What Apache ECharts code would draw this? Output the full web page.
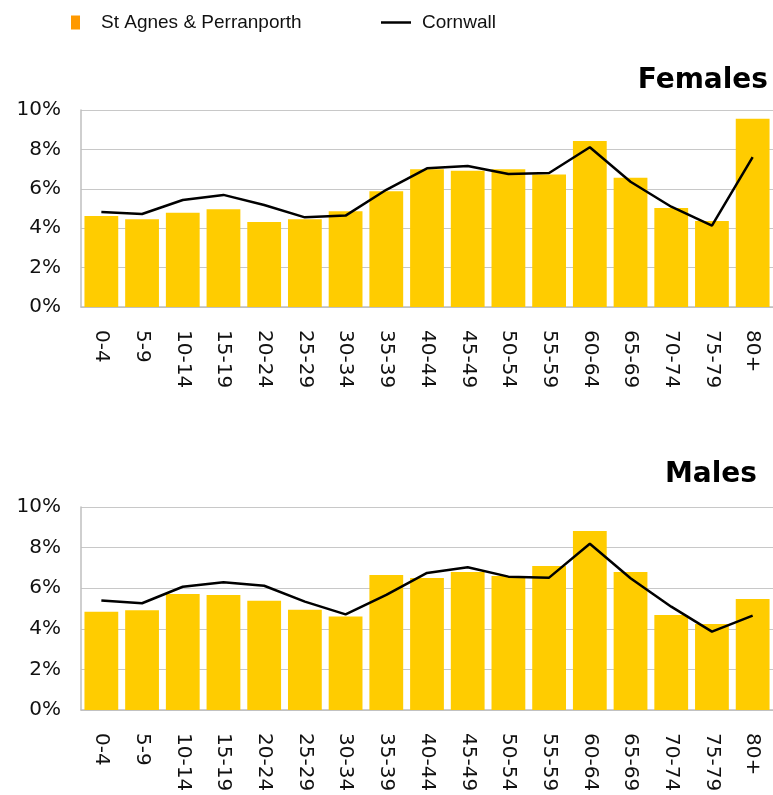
<!DOCTYPE html>
<html>
<head>
<meta charset="utf-8">
<script src="https://cdn.jsdelivr.net/npm/echarts@6/dist/echarts.min.js"></script>
<style>
  html, body { margin: 0; padding: 0; background: #fff; }
  #chart { width: 773px; height: 795px; }
</style>
</head>
<body>
<div id="chart"></div>
<script>
var ageBands = ['0-4', '5-9', '10-14', '15-19', '20-24', '25-29', '30-34', '35-39', '40-44',
  '45-49', '50-54', '55-59', '60-64', '65-69', '70-74', '75-79', '80+'];

// percentages
var femalesLocal = [4.62, 4.45, 4.79, 4.96, 4.31, 4.45, 4.86, 5.87, 6.99, 6.92, 6.99, 6.72, 8.43, 6.56, 5.03, 4.37, 9.56];
var femalesCornwall = [4.82, 4.72, 5.43, 5.69, 5.18, 4.55, 4.64, 5.95, 7.04, 7.16, 6.75, 6.80, 8.11, 6.36, 5.09, 4.13, 7.61];
var malesLocal = [4.84, 4.91, 5.71, 5.67, 5.38, 4.94, 4.61, 6.65, 6.50, 6.80, 6.60, 7.09, 8.82, 6.80, 4.68, 4.24, 5.47];
var malesCornwall = [5.40, 5.26, 6.07, 6.29, 6.12, 5.34, 4.71, 5.67, 6.75, 7.03, 6.57, 6.52, 8.19, 6.49, 5.09, 3.86, 4.65];

var localName = 'St Agnes & Perranporth';
var cornwallName = 'Cornwall';

var chart = echarts.init(document.getElementById('chart'));

function xAxisFor(gridIndex) {
  return {
    type: 'category',
    gridIndex: gridIndex,
    data: ageBands,
    axisTick: { show: false },
    axisLine: { lineStyle: { color: '#bfbfbf', width: 1.5 } },
    axisLabel: {
      rotate: -90,
      interval: 0,
      margin: 23,
      color: '#111',
      fontFamily: 'DejaVu Sans',
      fontSize: 20
    }
  };
}

function yAxisFor(gridIndex) {
  return {
    type: 'value',
    gridIndex: gridIndex,
    min: 0,
    max: 10,
    interval: 2,
    axisLine: { show: true, lineStyle: { color: '#bfbfbf', width: 1.5 } },
    axisTick: { show: false },
    splitLine: { lineStyle: { color: '#c8c8c8', width: 1 } },
    axisLabel: {
      formatter: '{value}%',
      margin: 20,
      color: '#111',
      fontFamily: 'DejaVu Sans',
      fontSize: 20
    }
  };
}

function barSeries(idx, data) {
  return {
    name: localName,
    type: 'bar',
    xAxisIndex: idx,
    yAxisIndex: idx,
    data: data,
    barCategoryGap: '17%',
    itemStyle: { color: '#FFCC00' },
    emphasis: { disabled: true }
  };
}

function lineSeries(idx, data) {
  return {
    name: cornwallName,
    type: 'line',
    xAxisIndex: idx,
    yAxisIndex: idx,
    data: data,
    symbol: 'none',
    lineStyle: { color: '#000', width: 2.5 },
    itemStyle: { color: '#000' },
    emphasis: { disabled: true }
  };
}

var legendText = { fontFamily: 'Liberation Sans', fontSize: 19, color: '#111' };

chart.setOption({
  animation: false,
  title: [
    {
      text: 'Females',
      right: 0,
      top: 62,
      textStyle: { fontFamily: 'DejaVu Sans', fontWeight: 'bold', fontSize: 28, color: '#000' }
    },
    {
      text: 'Males',
      right: 11,
      top: 456,
      textStyle: { fontFamily: 'DejaVu Sans', fontWeight: 'bold', fontSize: 28, color: '#000' }
    }
  ],
  legend: [
    {
      data: [{ name: localName, icon: 'rect', itemStyle: { color: '#FF9900' } }],
      left: 71,
      top: 13,
      padding: 0,
      itemWidth: 9,
      itemHeight: 14,
      textStyle: Object.assign({ padding: [0, 0, 0, 16] }, legendText)
    },
    {
      data: [{ name: cornwallName, icon: 'rect', itemStyle: { color: '#000' } }],
      left: 381,
      top: 13,
      padding: 0,
      itemWidth: 30,
      itemHeight: 2.5,
      textStyle: Object.assign({ padding: [0, 0, 0, 6] }, legendText)
    }
  ],
  grid: [
    { left: 81, right: 0, top: 110, height: 197 },
    { left: 81, right: 0, top: 507, height: 203 }
  ],
  xAxis: [xAxisFor(0), xAxisFor(1)],
  yAxis: [yAxisFor(0), yAxisFor(1)],
  series: [
    barSeries(0, femalesLocal),
    lineSeries(0, femalesCornwall),
    barSeries(1, malesLocal),
    lineSeries(1, malesCornwall)
  ]
});
</script>
</body>
</html>
